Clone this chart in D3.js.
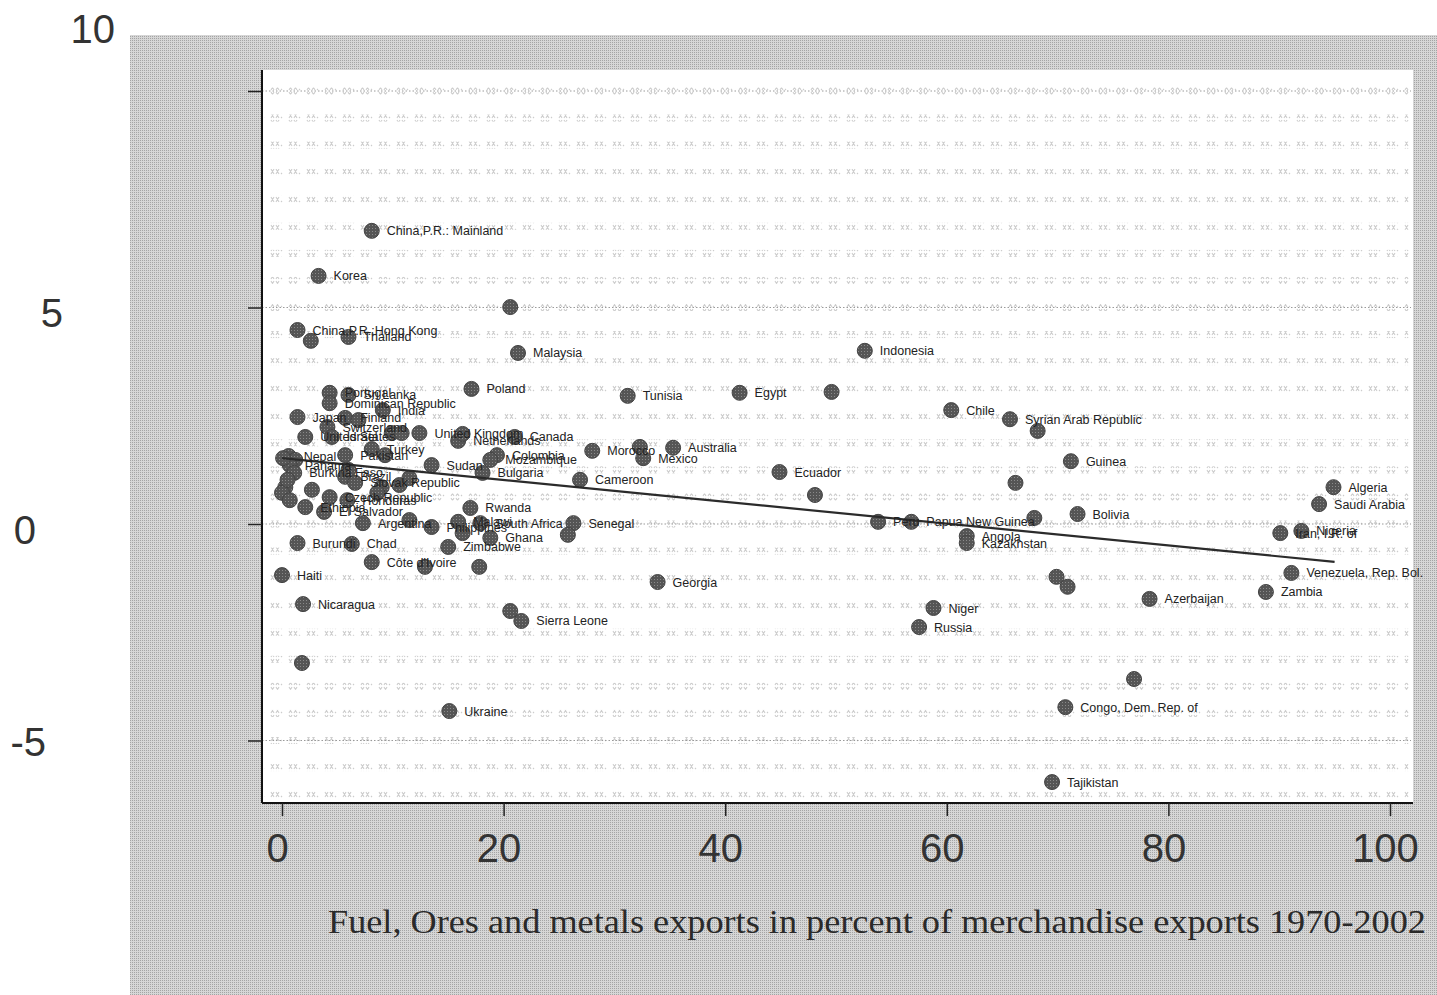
<!DOCTYPE html>
<html>
<head>
<meta charset="utf-8">
<script src="https://cdn.jsdelivr.net/npm/d3@7"></script>
<style>
html,body{margin:0;padding:0;background:#fff;}
svg{display:block;}
</style>
</head>
<body>
<svg id="chart" width="1437" height="995"></svg>
<script>
// ---------------- data ----------------
const countries = [
 "China,P.R.: Mainland","Korea","","China,P.R.:Hong Kong","","Thailand","Malaysia","Indonesia","Poland","Tunisia",
 "Egypt","","Chile","Syrian Arab Republic","","Guinea","Ecuador","","","Algeria",
 "Saudi Arabia","Bolivia","","Peru","Papua New Guinea","Angola","Kazakhstan","Iran, I.R. of","Nigeria","Venezuela, Rep. Bol.",
 "Zambia","Azerbaijan","","","Niger","Russia","","Congo, Dem. Rep. of","Tajikistan","Georgia",
 "","Sierra Leone","Ukraine","","Haiti","Nicaragua","Burundi","Chad","Côte d'Ivoire","",
 "","Zimbabwe","Argentina","","Philippines","Malawi","","South Africa","Ghana","Senegal",
 "","Rwanda","Cameroon","Morocco","","Mexico","Australia","Canada","United Kingdom","Netherlands",
 "","Colombia","Mozambique","Bulgaria","Sudan","India","Sri Lanka","Portugal","Dominican Republic","Japan",
 "Switzerland","Finland","","United States","Israel","","","Turkey","Pakistan","",
 "Nepal","","Panama","Burkina Faso","Brazil","","Slovak Republic","","","",
 "Czech Republic","Honduras","","","","","Ethiopia","El Salvador","","",
 ""
];
const fuelOreShare = [
 8.1,3.3,20.6,1.4,2.6,6.0,21.3,52.6,17.1,31.2,
 41.3,49.6,60.4,65.7,68.2,71.2,44.9,66.2,48.1,94.9,
 93.6,71.8,67.9,53.8,56.8,61.8,61.8,90.1,92.0,91.1,
 88.8,78.3,69.9,70.9,58.8,57.5,76.9,70.7,69.5,33.9,
 20.6,21.6,15.1,1.8,0.0,1.9,1.4,6.3,8.1,12.9,
 17.8,15.0,7.3,11.5,13.5,15.9,16.3,17.9,18.8,26.3,
 25.8,17.0,26.9,28.0,32.3,32.6,35.3,21.0,12.4,15.9,
 16.3,19.4,18.8,18.1,13.5,9.1,6.0,4.3,4.3,1.4,
 4.1,5.7,6.9,2.1,4.5,9.9,10.8,8.1,5.7,9.3,
 0.6,1.2,0.7,1.1,5.7,6.0,6.6,9.0,10.6,11.5,
 4.3,5.9,2.7,0.3,0.0,0.7,2.1,3.8,8.6,0.1,
 0.5
];
const growthRate = [
 6.77,5.73,5.01,4.48,4.23,4.32,3.95,4.00,3.12,2.96,
 3.03,3.05,2.63,2.42,2.15,1.45,1.20,0.95,0.67,0.85,
 0.46,0.23,0.14,0.05,0.05,-0.28,-0.44,-0.21,-0.16,-1.13,
 -1.57,-1.73,-1.22,-1.45,-1.94,-2.38,-3.58,-4.23,-5.96,-1.34,
 -2.01,-2.24,-4.32,-3.21,-1.18,-1.85,-0.44,-0.46,-0.88,-0.99,
 -0.99,-0.53,0.02,0.09,-0.07,0.05,-0.21,0.02,-0.32,0.02,
 -0.25,0.37,1.02,1.69,1.78,1.52,1.76,2.01,2.10,1.92,
 2.08,1.59,1.48,1.18,1.36,2.63,2.98,3.03,2.79,2.47,
 2.24,2.45,2.40,2.01,2.01,2.10,2.10,1.73,1.59,1.59,
 1.57,1.48,1.36,1.18,1.09,1.25,0.95,0.85,0.90,1.06,
 0.62,0.55,0.79,0.85,0.72,0.55,0.39,0.28,0.72,1.52,
 1.02
];
const xTickValues = [0,20,40,60,80,100];
const yTickValues = [10,5,0,-5];
const xAxisTitle = "Fuel, Ores and metals exports in percent of merchandise exports 1970-2002";
// fitted line: growth = fitIntercept + fitSlope * share
const fitIntercept = 1.52;
const fitSlope = -0.0252;
const fitRange = [0, 95];

// ---------------- drawing ----------------
const svg = d3.select("#chart");
const defs = svg.append("defs");
const pat = defs.append("pattern").attr("id","grayTex").attr("patternUnits","userSpaceOnUse")
  .attr("width",2).attr("height",2);
pat.append("rect").attr("width",2).attr("height",2).attr("fill","#d6d6d6");
pat.append("rect").attr("width",1).attr("height",1).attr("fill","#a4a4a4");
const rowPat = defs.append("pattern").attr("id","rowTex").attr("patternUnits","userSpaceOnUse")
  .attr("width",18).attr("height",7);
rowPat.append("path").attr("d","M1,1 L4,6 M4,1 L1,6 M6,1 L9,6 M9,1 L6,6 M11,5 L12,6")
  .attr("stroke","#cdcdcd").attr("stroke-width",1.1);
const dotPat = defs.append("pattern").attr("id","dotTex").attr("patternUnits","userSpaceOnUse")
  .attr("width",3).attr("height",3);
dotPat.append("rect").attr("width",3).attr("height",3).attr("fill","#555");
dotPat.append("rect").attr("width",1).attr("height",1).attr("fill","#8a8a8a");

const plotL = 262, plotR = 1413, plotT = 70, plotB = 803;

// outer grey panel
svg.append("rect").attr("x",130).attr("y",35).attr("width",1437-130).attr("height",995-35).attr("fill","url(#grayTex)");
// plot region
svg.append("rect").attr("x",plotL).attr("y",plotT).attr("width",plotR-plotL).attr("height",plotB-plotT).attr("fill","#fff");

const x = d3.scaleLinear().domain([0,100]).range([282,1390]);
const y = d3.scaleLinear().domain([-5,10]).range([740.5,91]);

// textured grid rows every 0.625
const rows = d3.range(-6.25, 10.5, 0.625).filter(v => y(v) > plotT+6 && y(v) < plotB-4);
svg.append("g").selectAll("rect").data(rows).join("rect")
  .attr("x",plotL+2).attr("width",plotR-plotL-6)
  .attr("y",d=>y(d)-3.5).attr("height",7)
  .attr("fill","url(#rowTex)");
// dotted reference lines at tick values
svg.append("g").selectAll("line").data(yTickValues).join("line")
  .attr("x1",plotL).attr("x2",plotR-2)
  .attr("y1",d=>y(d)).attr("y2",d=>y(d))
  .attr("stroke","#9a9a9a").attr("stroke-width",1).attr("stroke-dasharray","1.5,2");

// points
const pts = countries.map((c,i)=>({name:c, xv:fuelOreShare[i], yv:growthRate[i]}));
svg.append("g").selectAll("circle").data(pts).join("circle")
  .attr("cx",d=>x(d.xv)).attr("cy",d=>y(d.yv)).attr("r",7.5)
  .attr("fill","url(#dotTex)").attr("stroke","#444").attr("stroke-width",1);

// fitted line
const line = d3.line().x(d=>x(d)).y(d=>y(fitIntercept + fitSlope*d));
svg.append("path").datum(fitRange).attr("d",line)
  .attr("fill","none").attr("stroke","#2b2b2b").attr("stroke-width",2.2);

// labels
svg.append("g").selectAll("text").data(pts.filter(d=>d.name)).join("text")
  .attr("x",d=>x(d.xv)+15).attr("y",d=>y(d.yv)+4.5)
  .attr("font-family","'Liberation Sans', Arial, sans-serif").attr("font-size",12.5)
  .attr("fill","#222").text(d=>d.name);

// axes
const xAxis = svg.append("g").attr("transform",`translate(0,${plotB})`)
  .call(d3.axisBottom(x).tickValues(xTickValues).tickSize(13).tickSizeOuter(0).tickFormat(d3.format("d")));
xAxis.select(".domain").attr("d",`M${plotL},0H${plotR}`).attr("stroke","#111").attr("stroke-width",2);
xAxis.selectAll(".tick line").attr("stroke","#222").attr("stroke-width",1.5);
xAxis.selectAll(".tick text").attr("x",-5).attr("y",59).attr("dy",null)
  .attr("font-family","'Liberation Sans', Arial, sans-serif").attr("font-size",40).attr("fill","#333");

const yAxis = svg.append("g").attr("transform",`translate(${plotL},0)`)
  .call(d3.axisLeft(y).tickValues(yTickValues).tickSize(14).tickSizeOuter(0).tickFormat(""));
yAxis.select(".domain").attr("d",`M0,${plotT}V${plotB}`).attr("stroke","#111").attr("stroke-width",2);
yAxis.selectAll(".tick line").attr("stroke","#222").attr("stroke-width",1.5);

// y tick labels (placed as in the scanned figure)
const yLabelPlace = v => ({10:{right:115,dy:-48},5:{right:63,dy:19},0:{right:36,dy:20},"-5":{right:46,dy:15.5}})[v];
svg.append("g").selectAll("text").data(yTickValues).join("text")
  .attr("x",d=>yLabelPlace(d).right).attr("y",d=>y(d)+yLabelPlace(d).dy)
  .attr("text-anchor","end")
  .attr("font-family","'Liberation Sans', Arial, sans-serif").attr("font-size",40).attr("fill","#333")
  .text(d=>d);

// x axis title
svg.append("text").attr("x",328).attr("y",933)
  .attr("font-family","'Liberation Serif', 'Times New Roman', serif").attr("font-size",33)
  .attr("fill","#2a2a2a").attr("textLength",1098).attr("lengthAdjust","spacingAndGlyphs")
  .text(xAxisTitle);
</script>
</body>
</html>
